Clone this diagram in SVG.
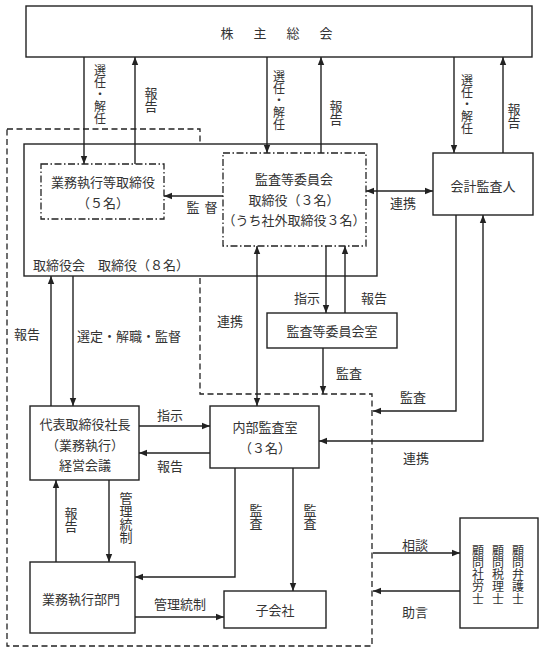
<svg xmlns="http://www.w3.org/2000/svg" width="543" height="652" viewBox="0 0 543 652">
<defs>
<marker id="ah" viewBox="0 0 10 10" refX="10" refY="5" markerWidth="8" markerHeight="8" markerUnits="userSpaceOnUse" orient="auto-start-reverse">
<path d="M0,1 L10,5 L0,9 z" fill="#222"/>
</marker>
<style>
text{font-family:"Noto Sans CJK JP","Noto Sans CJK SC",sans-serif;font-size:13px;fill:#333}
.m{text-anchor:middle}
.v{writing-mode:vertical-rl}
.v12{font-size:12px}
.box{fill:#fff;stroke:#222;stroke-width:1.4}
.dd{fill:none;stroke:#222;stroke-width:1.3;stroke-dasharray:7 2.5 1.5 2.5}
.dash{fill:none;stroke:#222;stroke-width:1.3;stroke-dasharray:6 3.5}
.c{fill:none;stroke:#222;stroke-width:1.4}
.a{marker-end:url(#ah)}
.b{marker-start:url(#ah);marker-end:url(#ah)}
</style>
</defs>
<rect width="543" height="652" fill="#fff"/>

<path class="dash" d="M7,129 H200 V394 H372 V646 H7 Z"/>

<g id="shareholders">
<rect class="box" x="26" y="6" width="506" height="51"/>
<text x="220.5" y="38" letter-spacing="20">株主総会</text>
</g>

<g id="board">
<rect class="box" x="24" y="144" width="353" height="132"/>
<text x="33" y="270">取締役会　取締役（８名）</text>
</g>

<g id="exec-directors">
<rect class="dd" x="41" y="164" width="123" height="55"/>
<text class="m" x="103" y="186.5">業務執行等取締役</text>
<text class="m" x="103" y="207.5">（５名）</text>
</g>

<g id="audit-committee">
<rect class="dd" x="223" y="153" width="143" height="93"/>
<text class="m" x="294" y="184">監査等委員会</text>
<text class="m" x="294" y="204.5">取締役（３名）</text>
<text class="m" x="294" y="225">（うち社外取締役３名）</text>
</g>

<g id="accounting-auditor">
<rect class="box" x="433" y="153" width="100" height="62"/>
<text class="m" x="483" y="190.5">会計監査人</text>
</g>

<g id="audit-office">
<rect class="box" x="267" y="313" width="130" height="35"/>
<text class="m" x="332" y="335.5">監査等委員会室</text>
</g>

<g id="president">
<rect class="box" x="30" y="406" width="109" height="74"/>
<text class="m" x="85" y="428.5">代表取締役社長</text>
<text class="m" x="85" y="449.5">（業務執行）</text>
<text class="m" x="85" y="469.5">経営会議</text>
</g>

<g id="internal-audit">
<rect class="box" x="210" y="406" width="109" height="62"/>
<text class="m" x="265" y="431.5">内部監査室</text>
<text class="m" x="265" y="452.5">（３名）</text>
</g>

<g id="business-division">
<rect class="box" x="30" y="562" width="105" height="71"/>
<text class="m" x="81" y="604">業務執行部門</text>
</g>

<g id="subsidiary">
<rect class="box" x="224" y="591" width="102" height="37"/>
<text class="m" x="275" y="614.5">子会社</text>
</g>

<g id="advisors">
<rect class="box" x="460" y="518" width="78" height="110"/>
<text class="v v12" x="518" y="544" letter-spacing="0.3">顧問弁護士</text>
<text class="v v12" x="498" y="544" letter-spacing="0.3">顧問税理士</text>
<text class="v v12" x="478" y="544" letter-spacing="0.3">顧問社労士</text>
</g>

<g id="connectors">
<line class="c a" x1="84" y1="57" x2="84" y2="164"/>
<line class="c a" x1="135" y1="164" x2="135" y2="57"/>
<line class="c a" x1="267" y1="57" x2="267" y2="153"/>
<line class="c a" x1="321" y1="153" x2="321" y2="57"/>
<line class="c a" x1="454" y1="57" x2="454" y2="153"/>
<line class="c a" x1="503" y1="153" x2="503" y2="57"/>
<line class="c a" x1="223" y1="196" x2="164" y2="196"/>
<line class="c b" x1="366" y1="191" x2="433" y2="191"/>
<line class="c a" x1="51" y1="406" x2="51" y2="276"/>
<line class="c a" x1="73" y1="276" x2="73" y2="406"/>
<line class="c b" x1="257" y1="246" x2="257" y2="406"/>
<line class="c a" x1="326" y1="246" x2="326" y2="313"/>
<line class="c a" x1="345" y1="313" x2="345" y2="246"/>
<line class="c a" x1="323" y1="348" x2="323" y2="394"/>
<path class="c a" d="M456,215 V411 H373"/>
<path class="c b" d="M319,441 H483 V215"/>
<line class="c a" x1="139" y1="426" x2="210" y2="426"/>
<line class="c a" x1="210" y1="453" x2="139" y2="453"/>
<line class="c a" x1="56" y1="562" x2="56" y2="480"/>
<line class="c a" x1="109" y1="480" x2="109" y2="562"/>
<path class="c a" d="M235,468 V577 H135"/>
<line class="c a" x1="293" y1="468" x2="293" y2="591"/>
<line class="c a" x1="135" y1="617" x2="224" y2="617"/>
<line class="c a" x1="373" y1="553" x2="460" y2="553"/>
<line class="c a" x1="460" y1="591" x2="373" y2="591"/>

<text class="v v12" x="100" y="64">選任・解任</text>
<text class="v" x="151" y="86.5">報告</text>
<text class="v v12" x="279" y="70">選任・解任</text>
<text class="v" x="336" y="99.5">報告</text>
<text class="v v12" x="467" y="74">選任・解任</text>
<text class="v" x="514" y="102.5">報告</text>

<text x="186.5" y="211.5" letter-spacing="5">監督</text>
<text class="m" x="403" y="208">連携</text>
<text class="m" x="27" y="338.5">報告</text>
<text x="77" y="341">選定・解職・監督</text>
<text class="m" x="230" y="326">連携</text>
<text class="m" x="307" y="302.5">指示</text>
<text class="m" x="374" y="302.5">報告</text>
<text class="m" x="349" y="377.5">監査</text>
<text class="m" x="413" y="402">監査</text>
<text class="m" x="416" y="462.5">連携</text>
<text class="m" x="170" y="419.5">指示</text>
<text class="m" x="170" y="471">報告</text>
<text class="v" x="71" y="506.5">報告</text>
<text class="v" x="126" y="491.5">管理統制</text>
<text class="v" x="256" y="503.5">監査</text>
<text class="v" x="310" y="503.5">監査</text>
<text class="m" x="180" y="608.5">管理統制</text>
<text class="m" x="415" y="549.5">相談</text>
<text class="m" x="415" y="617">助言</text>
</g>
</svg>
